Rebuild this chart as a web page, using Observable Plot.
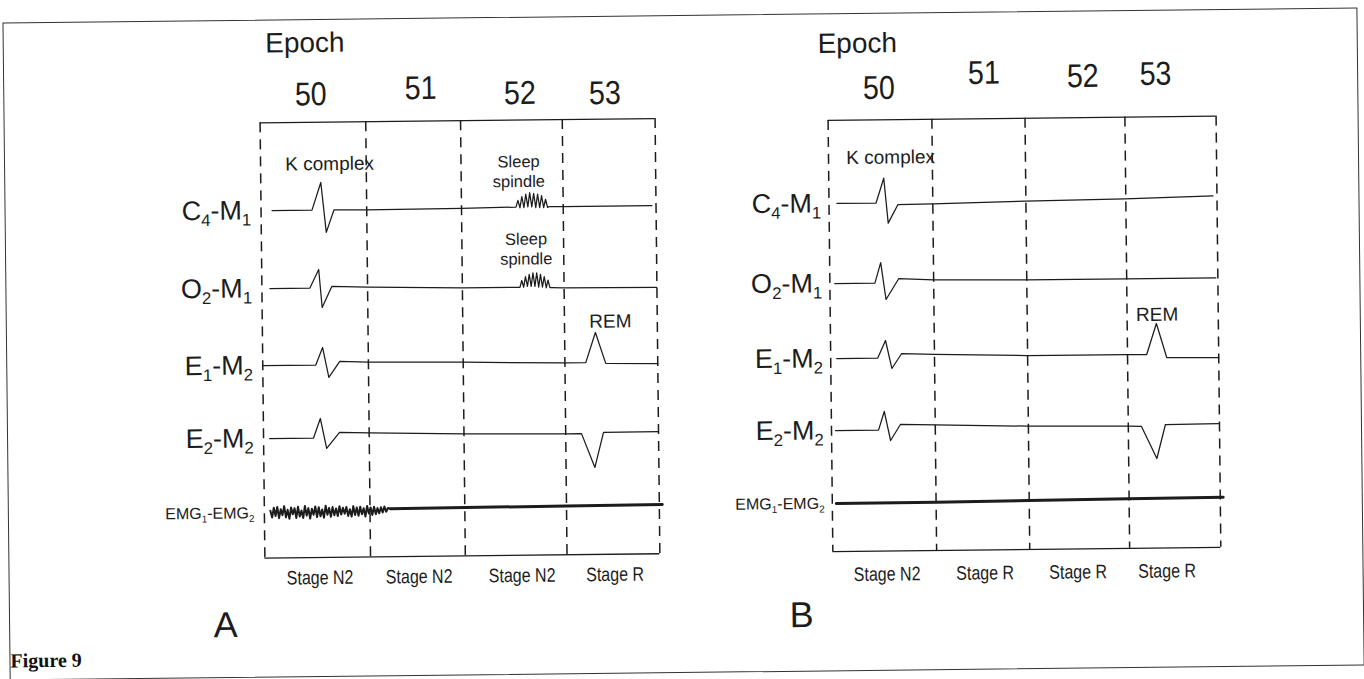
<!DOCTYPE html>
<html>
<head>
<meta charset="utf-8">
<script src="https://cdn.jsdelivr.net/npm/d3@7"></script>
<script src="https://cdn.jsdelivr.net/npm/@observablehq/plot@0.6"></script>
<style>
  html, body { margin: 0; padding: 0; background: #fff; overflow: hidden; }
  #fig { position: relative; width: 1364px; height: 679px; transform: rotate(-0.63deg); transform-origin: 50% 50%; }
  #panels { position: absolute; left: 0; top: 0; display: flex; width: 1364px; height: 679px; }
  #box { position: absolute; left: 6px; top: 15px; width: 1353px; height: 656px; border: 1.3px solid #333; pointer-events: none; }
  #caption { position: absolute; left: 7px; top: 642px; font: bold 20px "Liberation Serif", "Times New Roman", serif; color: #111; }
</style>
</head>
<body>
<div id="fig">
  <div id="panels"></div>
  <div id="box"></div>
  <div id="caption">Figure 9</div>
</div>
<script>
// ---------- categories / tick labels ----------
const epochs = ["50", "51", "52", "53"];
const channels = ["C_4-M_1", "O_2-M_1", "E_1-M_2", "E_2-M_2", "EMG_1-EMG_2"];
const stagesA = ["Stage N2", "Stage N2", "Stage N2", "Stage R"];
const stagesB = ["Stage N2", "Stage R", "Stage R", "Stage R"];
// epoch boundaries (epoch units, hand-drawn spacing)
const boundaries = [0, 1.07, 2.03, 3.06, 4];

// channel baseline rows (row units, downward)
const baselineA = [1.0, 2.04, 3.067, 4.04, 5.033];
const baselineB = [0.989, 2.056, 3.056, 4.016, 4.989];

// label anchors (epoch units / row units)
const epochNumXA = [0.516, 1.63, 2.633, 3.494];
const epochNumYA = [-0.537, -0.604, -0.524, -0.511];
const epochNumXB = [0.526, 1.61, 2.63, 3.38];
const epochNumYB = [-0.54, -0.727, -0.667, -0.687];
const stageXA = [0.557, 1.56, 2.603, 3.544];
const stageXB = [0.557, 1.567, 2.526, 3.443];

const annotA = ["K complex", "Sleep\nspindle", "Sleep\nspindle", "REM"];
const annotAX = [0.699, 2.613, 2.68, 3.524];
const annotAY = [0.372, 0.507, 1.54, 2.513];
const annotB = ["K complex", "REM"];
const annotBX = [0.64, 3.37];
const annotBY = [0.367, 2.503];

// ---------- traces: time (epochs) and deflection (rows, + = up) ----------
// Panel A
const c4A_t = [0.111, 0.516, 0.608, 0.658, 0.739, 1.07, 2.03,
  2.582, 2.602, 2.622, 2.642, 2.662, 2.682, 2.702, 2.722, 2.742, 2.762, 2.782, 2.802, 2.822, 2.842, 2.862, 2.882, 2.902, 2.916,
  3.06, 3.959];
const c4A_v = [0, 0, 0.367, -0.30, 0.0, -0.005, 0.0,
  0.01, 0.10, 0.0, 0.15, 0.0, 0.18, 0.01, 0.20, 0.01, 0.19, 0.0, 0.18, 0.0, 0.16, 0.0, 0.11, 0.0, 0.01,
  0.01, 0.01];
const o2A_t = [0.081, 0.486, 0.577, 0.608, 0.709, 1.07, 2.03,
  2.613, 2.632, 2.651, 2.670, 2.689, 2.708, 2.727, 2.746, 2.765, 2.784, 2.803, 2.822, 2.841, 2.860, 2.879, 2.898, 2.917, 2.937,
  3.06, 4.0];
const o2A_v = [0, 0, 0.247, -0.26, 0.02, 0.003, -0.02,
  -0.02, 0.07, -0.02, 0.12, -0.01, 0.15, -0.01, 0.17, -0.01, 0.17, -0.02, 0.15, -0.02, 0.12, -0.03, 0.07, -0.03, -0.03,
  -0.035, -0.04];
const e1A_t = [0.0, 0.537, 0.608, 0.668, 0.78, 1.07, 2.03, 3.06, 3.271, 3.372, 3.473, 4.0];
const e1A_v = [0, 0, 0.233, -0.167, 0.047, 0.03, 0.016, -0.007, -0.007, 0.393, -0.02, -0.03];
const e2A_t = [0.061, 0.506, 0.577, 0.638, 0.77, 1.07, 2.03, 3.06, 3.22, 3.352, 3.443, 4.0];
const e2A_v = [0, 0, 0.26, -0.14, 0.073, 0.06, 0.033, 0.02, 0.02, -0.433, 0.033, 0.037];
const emgNoiseA_t = [
  0.061, 0.078, 0.096, 0.113, 0.131, 0.148, 0.166, 0.183, 0.201, 0.218,
  0.236, 0.253, 0.271, 0.288, 0.306, 0.323, 0.341, 0.358, 0.376, 0.393,
  0.411, 0.428, 0.446, 0.463, 0.481, 0.498, 0.516, 0.533, 0.551, 0.568,
  0.586, 0.603, 0.621, 0.638, 0.656, 0.673, 0.691, 0.708, 0.726, 0.743,
  0.761, 0.778, 0.796, 0.813, 0.831, 0.848, 0.866, 0.883, 0.901, 0.918,
  0.936, 0.953, 0.971, 0.988, 1.006, 1.023, 1.041, 1.058, 1.076, 1.093,
  1.111, 1.128, 1.146, 1.163, 1.181, 1.198, 1.216, 1.233, 1.251, 1.276];
const emgNoiseA_v = [
  0.03, -0.06, 0.07, -0.04, 0.08, -0.07, 0.05, -0.03, 0.09, -0.06,
  0.04, -0.08, 0.07, -0.02, 0.06, -0.07, 0.08, -0.05, 0.03, -0.07,
  0.09, -0.04, 0.06, -0.08, 0.05, -0.03, 0.08, -0.06, 0.07, -0.05,
  0.04, -0.07, 0.09, -0.03, 0.06, -0.06, 0.07, -0.04, 0.05, -0.05,
  0.08, -0.03, 0.06, -0.02, 0.07, -0.05, 0.04, -0.06, 0.08, -0.04,
  0.06, -0.05, 0.07, -0.03, 0.05, -0.06, 0.08, -0.02, 0.06, -0.04,
  0.07, -0.03, 0.05, -0.02, 0.06, -0.01, 0.07, 0.00, 0.05, 0.04];
const emgA_t = [1.276, 2.03, 3.06, 4.03];
const emgA_v = [0.04, 0.045, 0.05, 0.056];

// Panel B
const c4B_t = [0.082, 0.485, 0.567, 0.608, 0.711, 1.07, 2.03, 3.05, 3.959];
const c4B_v = [0, 0, 0.33, -0.27, -0.023, -0.019, 0.003, 0.02, 0.045];
const o2B_t = [0.05, 0.464, 0.526, 0.577, 0.711, 1.07, 2.03, 3.05, 3.979];
const o2B_v = [0, 0, 0.273, -0.22, 0.057, 0.035, 0.021, 0.02, 0.021];
const e1B_t = [0.062, 0.485, 0.567, 0.629, 0.732, 1.07, 2.03, 3.05, 3.258, 3.361, 3.464, 4.0];
const e1B_v = [0, 0, 0.233, -0.141, 0.057, 0.04, 0.012, 0.01, 0.008, 0.42, -0.035, -0.043];
const e2B_t = [0.041, 0.485, 0.546, 0.608, 0.711, 1.07, 2.03, 3.05, 3.196, 3.351, 3.443, 3.99];
const e2B_v = [0, 0, 0.247, -0.141, 0.071, 0.061, 0.03, 0.015, 0.009, -0.42, 0.032, 0.037];
const emgB_t = [0.041, 1.07, 2.03, 3.05, 4.03];
const emgB_v = [0, 0.003, 0.012, 0.02, 0.028];

// ---------- build tables ----------
function rows(ch, t, v, baselines) {
  return t.map((ti, i) => ({ch, t: ti, y: baselines[ch] - v[i]}));
}
const INK = "#1c1c1c";
const SANS = "'Liberation Sans', Arial, Helvetica, sans-serif";
const NARROW = "'Liberation Sans Narrow', 'Liberation Sans', Arial, sans-serif";
const DIGITS = "Arial, 'Liberation Sans', Helvetica, sans-serif";

function panel(cfg) {
  const {baselines, thin, emgNoise, emgLine, epochX, epochY, epochWord, stages, stageX, stageY,
         annot, annotX, annotY, letter, bracketY, bottomY, marginLeft, marginRight, labelX} = cfg;
  return Plot.plot({
    width: 682, height: 679,
    marginLeft, marginRight, marginTop: 0, marginBottom: 0,
    style: {background: "transparent", overflow: "visible", fontFamily: SANS},
    x: {domain: [0, 4], axis: null},
    y: {domain: [-1.74, 7.313], range: [0, 679], axis: null},
    marks: [
      Plot.ruleY([bracketY], {x1: 0, x2: 4, stroke: INK, strokeWidth: 1.3}),
      Plot.ruleY([bottomY], {x1: 0, x2: 4, stroke: INK, strokeWidth: 1.3}),
      Plot.ruleX(boundaries, {y1: bracketY, y2: bottomY, stroke: INK, strokeWidth: 1.5, strokeDasharray: "10,7"}),
      Plot.line(thin, {x: "t", y: "y", z: "ch", stroke: INK, strokeWidth: 1.25}),
      emgNoise ? Plot.line(emgNoise, {x: "t", y: "y", stroke: INK, strokeWidth: 2}) : null,
      Plot.line(emgLine, {x: "t", y: "y", stroke: INK, strokeWidth: 3}),
      Plot.text(channels, {x: labelX, y: (d, i) => baselines[i], text: d => d, textAnchor: "end",
        fontSize: d => d.startsWith("EMG") ? 16 : 27, fill: INK}),
      Plot.text(epochs, {x: (d, i) => epochX[i], y: (d, i) => epochY[i], text: d => d, fontSize: 33, fontFamily: DIGITS, fill: INK}),
      Plot.text([epochWord], {x: d => d.x, y: d => d.y, text: d => d.text, textAnchor: "start", fontSize: 28, fill: INK}),
      Plot.text(stages, {x: (d, i) => stageX[i], y: stageY, text: d => d, fontSize: 19.5, fontFamily: NARROW, fill: INK}),
      Plot.text(annot, {x: (d, i) => annotX[i], y: (d, i) => annotY[i], text: d => d,
        fontSize: d => d.startsWith("Sleep") ? 16.5 : 19, lineHeight: 1.2, fill: INK}),
      Plot.text([letter], {x: d => d.x, y: d => d.y, text: d => d.text, fontSize: 36, fill: INK})
    ]
  });
}

function subscripts(svg) {
  svg.querySelectorAll("text").forEach(t => {
    if (t.querySelector("tspan")) return;
    const s = t.textContent;
    if (!s.includes("_")) return;
    t.textContent = "";
    const parts = s.split(/(_\d)/).filter(p => p);
    let lowered = false;
    for (const p of parts) {
      const ts = document.createElementNS("http://www.w3.org/2000/svg", "tspan");
      if (p.startsWith("_")) {
        ts.textContent = p.slice(1);
        ts.setAttribute("font-size", "62%");
        ts.setAttribute("dy", "0.36em");
        lowered = true;
      } else {
        ts.textContent = p;
        if (lowered) { ts.setAttribute("dy", "-0.223em"); lowered = false; }
      }
      t.appendChild(ts);
    }
  });
  return svg;
}

// condensed lettering of the original (narrow face emulated by text length)
function condense(svg, family, factor) {
  svg.querySelectorAll("g").forEach(g => {
    if (g.getAttribute("font-family") !== family) return;
    g.querySelectorAll("text").forEach(t => {
      const len = t.getComputedTextLength();
      t.setAttribute("textLength", (len * factor).toFixed(1));
      t.setAttribute("lengthAdjust", "spacingAndGlyphs");
    });
  });
}

const thinA = [
  ...rows(0, c4A_t, c4A_v, baselineA), ...rows(1, o2A_t, o2A_v, baselineA),
  ...rows(2, e1A_t, e1A_v, baselineA), ...rows(3, e2A_t, e2A_v, baselineA)];
const thinB = [
  ...rows(0, c4B_t, c4B_v, baselineB), ...rows(1, o2B_t, o2B_v, baselineB),
  ...rows(2, e1B_t, e1B_v, baselineB), ...rows(3, e2B_t, e2B_v, baselineB)];

const A = panel({
  baselines: baselineA, thin: thinA,
  emgNoise: rows(4, emgNoiseA_t, emgNoiseA_v, baselineA),
  emgLine: rows(4, emgA_t, emgA_v, baselineA),
  epochX: epochNumXA, epochY: epochNumYA,
  epochWord: {text: "Epoch", x: 0.06, y: -1.227},
  stages: stagesA, stageX: stageXA, stageY: 5.905,
  annot: annotA, annotX: annotAX, annotY: annotAY,
  letter: {text: "A", x: -0.405, y: 6.527},
  bracketY: -0.17, bottomY: 5.633,
  marginLeft: 262, marginRight: 25, labelX: -0.1
});
const B = panel({
  baselines: baselineB, thin: thinB,
  emgNoise: null,
  emgLine: rows(4, emgB_t, emgB_v, baselineB),
  epochX: epochNumXB, epochY: epochNumYB,
  epochWord: {text: "Epoch", x: -0.1, y: -1.139},
  stages: stagesB, stageX: stageXB, stageY: 5.94,
  annot: annotB, annotX: annotBX, annotY: annotBY,
  letter: {text: "B", x: -0.33, y: 6.477},
  bracketY: -0.12, bottomY: 5.63,
  marginLeft: 148, marginRight: 146, labelX: -0.08
});
const host = document.getElementById("panels");
host.appendChild(subscripts(A));
host.appendChild(subscripts(B));
for (const svg of [A, B]) {
  condense(svg, NARROW, 0.82);
  condense(svg, DIGITS, 0.87);
}
</script>
</body>
</html>
